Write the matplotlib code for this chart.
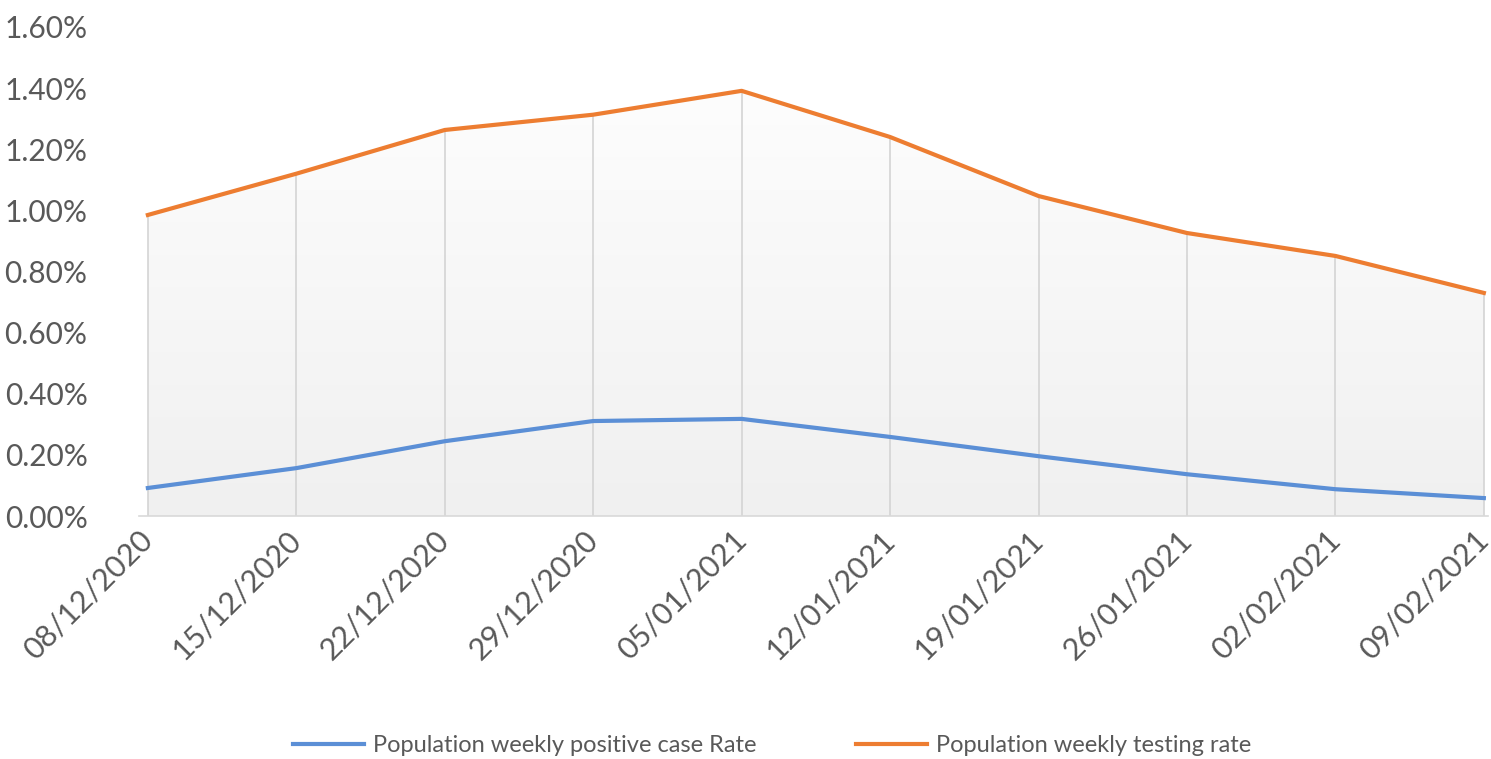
import matplotlib.pyplot as plt
import numpy as np
from matplotlib.ticker import FuncFormatter
from matplotlib.colors import LinearSegmentedColormap

# weekly rates (%)
dates = ['08/12/2020', '15/12/2020', '22/12/2020', '29/12/2020', '05/01/2021',
         '12/01/2021', '19/01/2021', '26/01/2021', '02/02/2021', '09/02/2021']
positive_rate = [0.092, 0.157, 0.245, 0.311, 0.318, 0.259, 0.196, 0.137, 0.088, 0.059]
testing_rate = [0.985, 1.12, 1.263, 1.313, 1.391, 1.24, 1.047, 0.926, 0.851, 0.73]

plt.rcParams['font.family'] = ['Lato', 'DejaVu Sans']

fig = plt.figure(figsize=(14.91, 7.59), dpi=100)
ax = fig.add_axes([0.0932, 0.320, 0.905, 0.6445])

x = np.arange(len(dates))
ax.set_xlim(-0.06, len(dates) - 1 + 0.03)
ax.set_ylim(0, 1.6)

# gradient fill under the testing line, light grey at the bottom fading to white
grad = np.linspace(0.0, 1.0, 256).reshape(-1, 1)
cmap = LinearSegmentedColormap.from_list('g', ['#f0f0f0', '#ffffff'])
img = ax.imshow(grad, extent=[x[0], x[-1], 0, 1.6], aspect='auto',
                cmap=cmap, origin='lower', zorder=0)
poly = ax.fill_between(x, 0, testing_rate, color='none', lw=0)
img.set_clip_path(poly.get_paths()[0], transform=ax.transData)

# vertical drop lines
ax.vlines(x, 0, testing_rate, color='#d4d4d4', lw=1.2, zorder=1)

ax.plot(x, positive_rate, color='#5b8fd6', lw=3, label='Population weekly positive case Rate', zorder=3)
ax.plot(x, testing_rate, color='#ed7d31', lw=3, label='Population weekly testing rate', zorder=3)

for s in ['top', 'right', 'left']:
    ax.spines[s].set_visible(False)
ax.spines['bottom'].set_color('#d9d9d9')
ax.spines['bottom'].set_linewidth(1.2)

ax.set_yticks(np.arange(0, 1.61, 0.2))
ax.yaxis.set_major_formatter(FuncFormatter(lambda v, p: f'{v:.2f}%'))
ax.set_xticks(x)
ax.set_xticklabels(dates, rotation=45, ha='right', va='center', rotation_mode='anchor')
ax.tick_params(axis='y', length=0, pad=37, labelsize=21.5, labelcolor='#595959')
ax.tick_params(axis='x', length=0, pad=14, labelsize=22, labelcolor='#595959')

leg = fig.legend(loc='center', bbox_to_anchor=(0.518, 0.018), ncol=2, frameon=False,
                 fontsize=17, handlelength=3.0, handletextpad=0.4, columnspacing=4.2,
                 labelcolor='#595959')

fig.savefig('out.png', dpi=100)
